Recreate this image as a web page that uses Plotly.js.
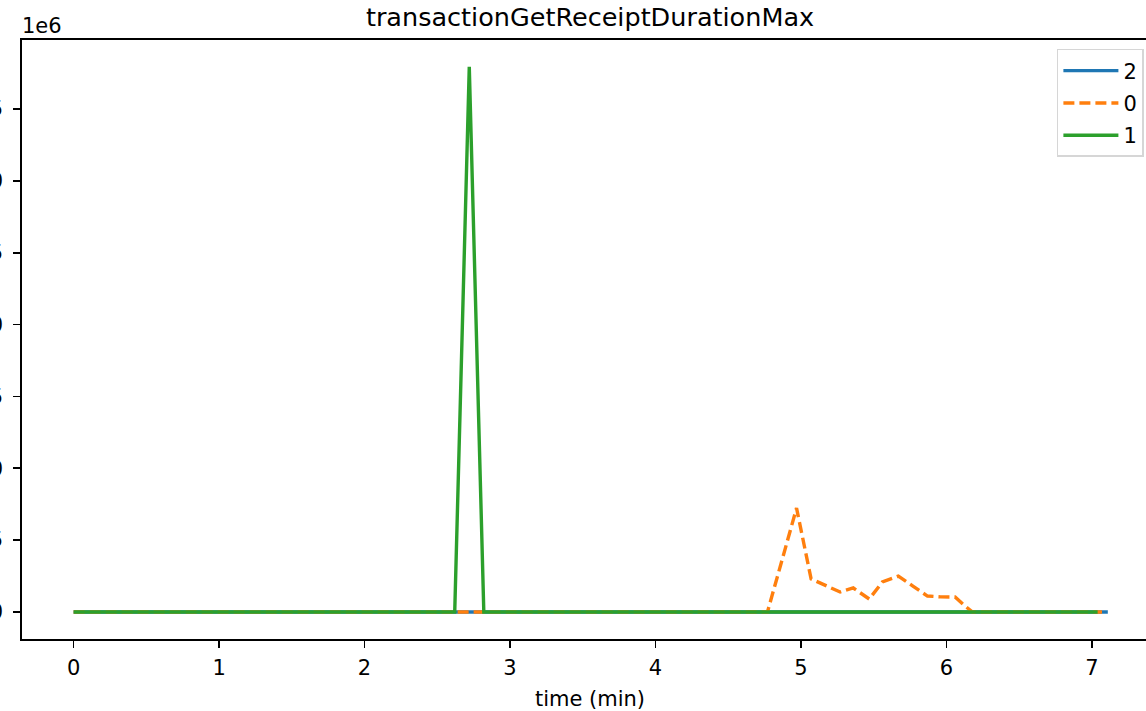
<!DOCTYPE html>
<html>
<head>
<meta charset="utf-8">
<script src="https://cdn.plot.ly/plotly-3.0.1.min.js"></script>
<style>
html, body { margin: 0; padding: 0; overflow: hidden; background: #ffffff; }
#chart { width: 1170px; height: 711px; }
</style>
</head>
<body>
<div id="chart"></div>
<script>
// Series "2" (blue) – flat at zero
const time2 = [0, 7.11];
const values2 = [0, 0];

// Series "0" (orange, dashed)
const time0 = [0, 4.77, 4.87, 4.97, 5.07, 5.17, 5.27, 5.36, 5.47, 5.56, 5.67, 5.77, 5.87, 5.96, 6.06, 6.13, 6.18, 7.07];
const values0 = [0, 0, 360000, 723000, 230000, 185000, 139000, 167000, 90000, 209000, 250000, 180000, 111000, 105000, 104000, 40000, 0, 0];

// Series "1" (green)
const time1 = [0, 2.62, 2.72, 2.82, 7.04];
const values1 = [0, 0, 3793000, 0, 0];

const seriesNames = ['2', '0', '1'];
const yTickVals = [0, 500000, 1000000, 1500000, 2000000, 2500000, 3000000, 3500000];
const yTickText = ['0.0', '0.5', '1.0', '1.5', '2.0', '2.5', '3.0', '3.5'];
const xTickVals = [0, 1, 2, 3, 4, 5, 6, 7];

const font = 'DejaVu Sans, sans-serif';

const traces = [
  { x: time2, y: values2, name: seriesNames[0], legendgroup: 'a', mode: 'lines',
    line: { color: '#1f77b4', width: 3.4 } },
  { x: time0, y: values0, name: seriesNames[1], legendgroup: 'b', mode: 'lines',
    line: { color: '#ff7f0e', width: 3.4, dash: '11px,5px' } },
  { x: time1, y: values1, name: seriesNames[2], legendgroup: 'c', mode: 'lines',
    line: { color: '#2ca02c', width: 3.4 } }
];

const layout = {
  width: 1170, height: 711,
  margin: { l: 22, r: 12, t: 40, b: 72 },
  paper_bgcolor: '#ffffff', plot_bgcolor: '#ffffff',
  font: { family: font, size: 21, color: '#000000' },
  title: { text: 'transactionGetReceiptDurationMax', font: { family: font, size: 25.5, color: '#000' },
           x: 0.5, xref: 'paper', xanchor: 'center', y: 1 - 17 / 711, yref: 'container', yanchor: 'middle' },
  showlegend: true,
  legend: {
    x: 0.911, xanchor: 'left', y: 0.985, yanchor: 'top',
    bgcolor: 'rgba(255,255,255,0.8)', bordercolor: '#d6d6d6', borderwidth: 1.5,
    font: { family: font, size: 21, color: '#000' },
    itemwidth: 55,
    tracegroupgap: 2
  },
  xaxis: {
    range: [-0.355, 7.455], tickmode: 'array', tickvals: xTickVals,
    showgrid: false, zeroline: false, showline: true, linecolor: '#000', linewidth: 1.7, mirror: true,
    ticks: 'outside', ticklen: 7, tickwidth: 1.7, tickcolor: '#000',
    tickfont: { family: font, size: 21 }, ticklabelstandoff: 2,
    title: { text: 'time (min)', font: { family: font, size: 21 }, standoff: 12 },
    automargin: false
  },
  yaxis: {
    range: [-188000, 3980000], tickmode: 'array', tickvals: yTickVals, ticktext: yTickText,
    showgrid: false, zeroline: false, showline: true, linecolor: '#000', linewidth: 1.7, mirror: true,
    ticks: 'outside', ticklen: 7, tickwidth: 1.7, tickcolor: '#000',
    tickfont: { family: font, size: 21 }, ticklabelstandoff: 6,
    automargin: false
  },
  annotations: [
    { text: '1e6', xref: 'paper', yref: 'paper', x: 0, y: 1, xanchor: 'left', yanchor: 'bottom',
      showarrow: false, font: { family: font, size: 21, color: '#000' }, yshift: 0, xshift: -2 }
  ]
};

Plotly.newPlot('chart', traces, layout, { displayModeBar: false, staticPlot: true });
</script>
</body>
</html>
